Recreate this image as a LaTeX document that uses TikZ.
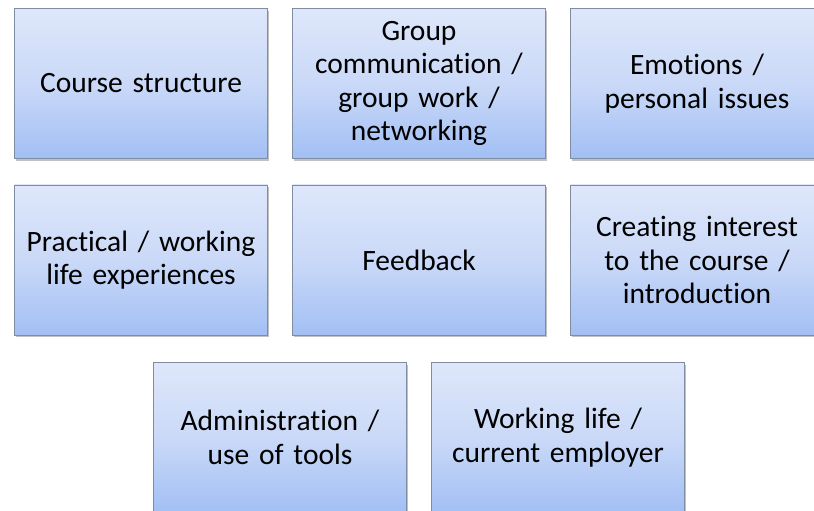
\documentclass[tikz,border=0pt]{standalone}
\usepackage{fontspec}
\setmainfont[Ligatures=NoCommon]{Carlito}
\usetikzlibrary{shadows}
\definecolor{boxtop}{RGB}{222,231,250}
\definecolor{boxmid}{RGB}{202,217,248}
\definecolor{boxbot}{RGB}{162,191,244}
\definecolor{boxedge}{RGB}{128,140,162}
\tikzset{
  topic/.style={
    rectangle, draw=boxedge, line width=0.8pt,
    top color=boxtop, bottom color=boxbot, middle color=boxmid,
    minimum width=253pt, minimum height=150pt, inner sep=0pt,
    text width=245pt, align=center, text=black,
    font=\fontsize{29.5pt}{33.5pt}\selectfont,
    drop shadow={shadow xshift=1.5pt, shadow yshift=-2.5pt, opacity=0.35, fill=black!70}
  }
}
\begin{document}
\begin{tikzpicture}[x=1pt,y=1pt]
  \useasboundingbox (0,0) rectangle (814,511);
  \clip (0,0) rectangle (814,511);
  % top row
  \node[topic] (structure) at (141,427.5) {Course structure};
  \node[topic] (group) at (419,427.5) {Group\\communication /\\group work /\\networking};
  \node[topic] (emotions) at (697,427.5) {Emotions /\\personal issues};
  % middle row
  \node[topic] (practical) at (141,251) {Practical / working\\life experiences};
  \node[topic] (feedback) at (419,251) {Feedback};
  \node[topic] (interest) at (697,251) {Creating interest\\to the course /\\introduction};
  % bottom row
  \node[topic] (admin) at (280,73.5) {Administration /\\use of tools};
  \node[topic] (employer) at (558,73.5) {Working life /\\current employer};
\end{tikzpicture}
\end{document}
